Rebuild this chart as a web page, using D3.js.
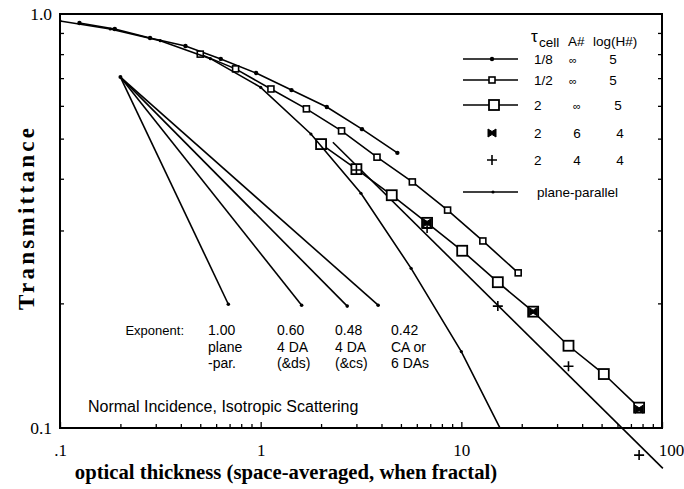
<!DOCTYPE html>
<html><head><meta charset="utf-8">
<script src="https://cdn.jsdelivr.net/npm/d3@7"></script>
<style>body{margin:0;background:#fff}</style>
</head><body><svg id="c" width="684" height="489"></svg>
<script>
// ---- data (optical thickness tau, transmittance T) ----
const tau8 = [0.125,0.1875,0.281,0.422,0.633,0.949,1.424,2.136,3.2,4.8];
const T8   = [0.951,0.920,0.875,0.837,0.779,0.720,0.655,0.596,0.527,0.462];
const tau12 = [0.5,0.75,1.125,1.69,2.53,3.8,5.7,8.54,12.8,19.2];
const T12   = [0.800,0.737,0.659,0.590,0.522,0.451,0.393,0.336,0.283,0.237];
const tau2 = [2,3,4.5,6.75,10.1,15.2,22.8,34.2,51.3,76.9];
const T2   = [0.485,0.422,0.365,0.313,0.268,0.225,0.191,0.158,0.135,0.112];
const tauA6 = [6.75,22.8,76.9];
const TA6   = [0.313,0.191,0.111];
const tauA4 = [3,6.75,15.2,34.2,76.9];
const TA4   = [0.42,0.304,0.197,0.141,0.086];
const tauFit = [2.29,101];
const TFit   = [0.49,0.0799];
const tauPP = [0.1,0.178,0.316,0.562,1,1.78,3.16,5.62,10,17.8];
const TPP   = [0.962,0.92,0.862,0.78,0.665,0.513,0.369,0.243,0.153,0.088];
const fanStartTau = 0.2, fanStartT = 0.704;
const fanEndTau = [0.69,1.6,2.7,3.85];
const fanEndT   = [0.199,0.198,0.197,0.198];
const exponents = ["1.00","0.60","0.48","0.42"];
const fanNotes  = [["plane","-par."],["4 DA","(&ds)"],["4 DA","(&cs)"],["CA or","6 DAs"]];
const xTickVals = [0.1,1,10,100];
const xTickLabels = [".1","1","10","100"];
const yTickVals = [0.1,1];
const yTickLabels = ["0.1","1.0"];
const legCell = ["1/8","1/2","2","2","2"];
const legA    = ["\u221e","\u221e","\u221e","6","4"];
const legH    = ["5","5","5","4","4"];

const svg = d3.select("#c");
const L=60,R=662,T=14,B=428;
const x = d3.scaleLog().domain([0.1,100]).range([L,R]);
const y = d3.scaleLog().domain([0.1,1]).range([B,T]);
const sans = "'Liberation Sans', Arial, sans-serif";
const serif = "'Liberation Serif', 'Times New Roman', serif";

svg.append("defs").append("clipPath").attr("id","clip")
  .append("rect").attr("x",L).attr("y",T).attr("width",R-L).attr("height",B-T);

const zip = (a,b)=>a.map((v,i)=>[v,b[i]]);
const line = d3.line().x(d=>x(d[0])).y(d=>y(d[1]));

// axes
const minor = [];
[0.1,1,10].forEach(d=>{for(let k=2;k<=9;k++) minor.push(d*k);});
const yMinor = []; for(let k=2;k<=9;k++) yMinor.push(0.1*k);

const gx = svg.append("g").attr("transform",`translate(0,${B})`)
  .call(d3.axisBottom(x).tickValues(xTickVals).tickFormat((d,i)=>xTickLabels[i]).tickSizeInner(-6).tickSizeOuter(0).tickPadding(16));
gx.select(".domain").remove();
gx.selectAll("text").attr("font-family",serif).attr("font-size",17).attr("fill","#000");
gx.selectAll(".tick").filter((d,i)=>i===3).select("text").attr("dx",9);
gx.selectAll(".tick line").attr("stroke-width",1.3);
svg.append("g").attr("transform",`translate(0,${B})`)
  .call(d3.axisBottom(x).tickValues(minor).tickFormat("").tickSizeInner(-4).tickSizeOuter(0))
  .call(g=>g.select(".domain").remove()).selectAll("line").attr("stroke-width",1.3);

const gy = svg.append("g").attr("transform",`translate(${L},0)`)
  .call(d3.axisLeft(y).tickValues(yTickVals).tickFormat((d,i)=>yTickLabels[i]).tickSizeInner(0).tickSizeOuter(0).tickPadding(8));
gy.select(".domain").remove();
gy.selectAll("text").attr("font-family",serif).attr("font-size",17.5).attr("fill","#000");
svg.append("g").attr("transform",`translate(${L},0)`)
  .call(d3.axisLeft(y).tickValues(yMinor).tickFormat("").tickSizeInner(-4).tickSizeOuter(0))
  .call(g=>g.select(".domain").remove()).selectAll("line").attr("stroke-width",1.3);
svg.append("g").attr("transform",`translate(${R},0)`)
  .call(d3.axisRight(y).tickValues(yMinor).tickFormat("").tickSizeInner(-4).tickSizeOuter(0))
  .call(g=>g.select(".domain").remove()).selectAll("line").attr("stroke-width",1.3);

// frame
svg.append("rect").attr("x",L).attr("y",T).attr("width",R-L).attr("height",B-T)
  .attr("fill","none").attr("stroke","#000").attr("stroke-width",2);

// axis titles
svg.append("text").attr("transform","translate(34,219) rotate(-90)").attr("text-anchor","middle")
  .attr("font-family",serif).attr("font-weight","bold").attr("font-size",23)
  .attr("textLength",182).attr("lengthAdjust","spacing").text("Transmittance");
svg.append("text").attr("x",286).attr("y",479).attr("text-anchor","middle")
  .attr("font-family",serif).attr("font-weight","bold").attr("font-size",20.7)
  .text("optical thickness (space-averaged, when fractal)");

const plot = svg.append("g");
const clipped = svg.append("g").attr("clip-path","url(#clip)");

// series lines
function series(g, data, w){ g.append("path").datum(data).attr("d",line).attr("fill","none").attr("stroke","#000").attr("stroke-width",w); }
series(clipped, zip(tauPP,TPP), 1.6);
series(plot, zip(tau8,T8), 1.6);
series(plot, zip(tau12,T12), 1.6);
series(plot, zip(tau2,T2), 1.6);
series(plot, zip(tauFit,TFit), 1.6);

// markers
function dots(g,data,r){ g.selectAll(null).data(data).join("circle").attr("cx",d=>x(d[0])).attr("cy",d=>y(d[1])).attr("r",r).attr("fill","#000"); }
function squares(g,data,s,sw){ g.selectAll(null).data(data).join("rect").attr("x",d=>x(d[0])-s/2).attr("y",d=>y(d[1])-s/2).attr("width",s).attr("height",s).attr("fill","#fff").attr("stroke","#000").attr("stroke-width",sw); }
const bow = "M-4,-4L0,-1.5L4,-4L4,4L0,1.5L-4,4Z";
function bows(g,data){ g.selectAll(null).data(data).join("path").attr("d",bow).attr("transform",d=>`translate(${x(d[0])},${y(d[1])})`).attr("fill","#000").attr("stroke","#000").attr("stroke-width",1); }
const plus = "M-5,0H5M0,-5V5";
function pluses(g,data){ g.selectAll(null).data(data).join("path").attr("d",plus).attr("transform",d=>`translate(${x(d[0])},${y(d[1])})`).attr("stroke","#000").attr("stroke-width",1.6).attr("fill","none"); }

dots(clipped, zip(tauPP,TPP), 1.6);
dots(plot, zip(tau8,T8), 2.2);
squares(plot, zip(tau12,T12), 6, 1.6);
squares(plot, zip(tau2,T2), 10, 1.8);
bows(plot, zip(tauA6,TA6));
pluses(plot, zip(tauA4,TA4));

// exponent fan
const fan = svg.append("g");
fanEndTau.forEach((t,i)=>{
  fan.append("path").datum([[fanStartTau,fanStartT],[t,fanEndT[i]]]).attr("d",line)
    .attr("stroke","#000").attr("stroke-width",1.6).attr("fill","none");
  fan.append("circle").attr("cx",x(t)).attr("cy",y(fanEndT[i])).attr("r",1.8).attr("fill","#000");
});
fan.append("circle").attr("cx",x(fanStartTau)).attr("cy",y(fanStartT)).attr("r",2).attr("fill","#000");
const colX = [208,277,335,391];
svg.append("text").attr("x",184).attr("y",335).attr("text-anchor","end").attr("font-family",sans).attr("font-size",13).text("Exponent:");
exponents.forEach((e,i)=>{
  const t = svg.append("text").attr("font-family",sans).attr("font-size",14);
  t.append("tspan").attr("x",colX[i]).attr("y",335).text(e);
  t.append("tspan").attr("x",colX[i]).attr("y",352).text(fanNotes[i][0]);
  t.append("tspan").attr("x",colX[i]).attr("y",368).text(fanNotes[i][1]);
});
svg.append("text").attr("x",88).attr("y",412).attr("font-family",sans).attr("font-size",16)
  .text("Normal Incidence, Isotropic Scattering");

// legend
const lg = svg.append("g").attr("font-family",sans).attr("font-size",13.5);
lg.append("text").attr("x",531).attr("y",42).attr("font-size",17).text("\u03c4");
lg.append("text").attr("x",539).attr("y",47).text("cell");
lg.append("text").attr("x",568).attr("y",46).text("A#");
lg.append("text").attr("x",593).attr("y",46).text("log(H#)");
const rowY = [59,80,105,133,160];
const colCellX=534, colAX=[573,573,577,577,577], colHX=[613,613,618,620,620];
rowY.forEach((ry,i)=>{
  lg.append("text").attr("x",colCellX).attr("y",ry+5).text(legCell[i]);
  lg.append("text").attr("x",colAX[i]).attr("y",ry+5).attr("text-anchor","middle").attr("font-size",i<3?11:13.5).text(legA[i]);
  lg.append("text").attr("x",colHX[i]).attr("y",ry+5).attr("text-anchor","middle").text(legH[i]);
});
const lgl = (yy)=>lg.append("line").attr("x1",463).attr("x2",518).attr("y1",yy).attr("y2",yy).attr("stroke","#000").attr("stroke-width",1.6);
lgl(rowY[0]); lg.append("circle").attr("cx",492).attr("cy",rowY[0]).attr("r",2.2);
lgl(rowY[1]); lg.append("rect").attr("x",489).attr("y",rowY[1]-3).attr("width",6).attr("height",6).attr("fill","#fff").attr("stroke","#000").attr("stroke-width",1.6);
lgl(rowY[2]); lg.append("rect").attr("x",489).attr("y",rowY[2]-5).attr("width",10).attr("height",10).attr("fill","#fff").attr("stroke","#000").attr("stroke-width",1.8);
lg.append("path").attr("d",bow).attr("transform",`translate(492,${rowY[3]})`).attr("fill","#000").attr("stroke","#000");
lg.append("path").attr("d",plus).attr("transform",`translate(492,${rowY[4]})`).attr("stroke","#000").attr("stroke-width",1.6);
lgl(192); lg.append("circle").attr("cx",493).attr("cy",192).attr("r",1.6);
lg.append("text").attr("x",537).attr("y",197).text("plane-parallel");
</script></body></html>
